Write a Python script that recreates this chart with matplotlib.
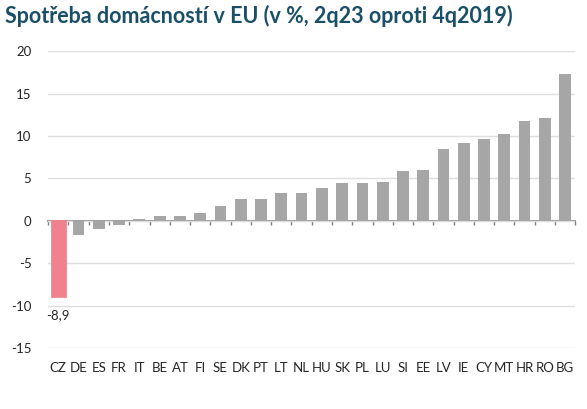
import numpy as np
import matplotlib
matplotlib.use("Agg")
import matplotlib.pyplot as plt

countries = ["CZ", "DE", "ES", "FR", "IT", "BE", "AT", "FI", "SE", "DK", "PT", "LT", "NL",
             "HU", "SK", "PL", "LU", "SI", "EE", "LV", "IE", "CY", "MT", "HR", "RO", "BG"]
values = [-8.9, -1.7, -1.0, -0.5, 0.2, 0.6, 0.6, 0.9, 1.7, 2.6, 2.6, 3.3, 3.3,
          3.9, 4.4, 4.4, 4.6, 5.9, 6.0, 8.5, 9.2, 9.7, 10.2, 11.8, 12.1, 17.3]
highlight = "CZ"
yticks = [-15, -10, -5, 0, 5, 10, 15, 20]

plt.rcParams["font.family"] = ["Lato", "DejaVu Sans"]

fig = plt.figure(figsize=(5.87, 4.09), dpi=100)
ax = fig.add_axes([0.082, 0.149, 0.898, 0.726])

x = np.arange(len(countries))
colors = ["#f0828e" if c == highlight else "#a6a6a6" for c in countries]
widths = [0.62 if c == highlight else 0.58 for c in countries]
lws = [2.0 if c == highlight else 0 for c in countries]
ax.bar(x, values, width=widths, color=colors, edgecolor=colors, linewidth=lws, zorder=3)

ax.set_xlim(-0.5, len(countries) - 0.5)
ax.set_ylim(-15, 20)
ax.set_yticks(yticks)
ax.set_yticklabels([str(t) for t in yticks], fontsize=9.5, color="#262626")
ax.set_xticks(x)
ax.set_xticklabels(countries, fontsize=9.5, color="#262626")
ax.tick_params(axis="both", length=0, pad=10)
ax.tick_params(axis="y", pad=12)
ax.grid(axis="y", color="#dedede", linewidth=1, zorder=0)
for s in ax.spines.values():
    s.set_visible(False)

# zero axis with category boundary ticks
sec = ax.secondary_xaxis(15 / 35)
sec.set_xticks(np.arange(len(countries) + 1) - 0.5)
sec.set_xticklabels([])
sec.tick_params(axis="x", direction="out", length=3, color="#7f7f7f", width=1)
sec.spines["bottom"].set_color("#7f7f7f")
sec.spines["bottom"].set_linewidth(1.2)

i = countries.index(highlight)
ax.annotate(f"{values[i]:.1f}".replace(".", ","), (x[i], values[i]), xytext=(0, -9),
            textcoords="offset points", ha="center", va="top", fontsize=9.5, color="#262626")

fig.text(0.008, 0.988, "Spotřeba domácností v EU (v %, 2q23 oproti 4q2019)",
         fontsize=15.5, fontweight="bold", color="#1a4f68", ha="left", va="top")

fig.savefig("out.png", dpi=100)
